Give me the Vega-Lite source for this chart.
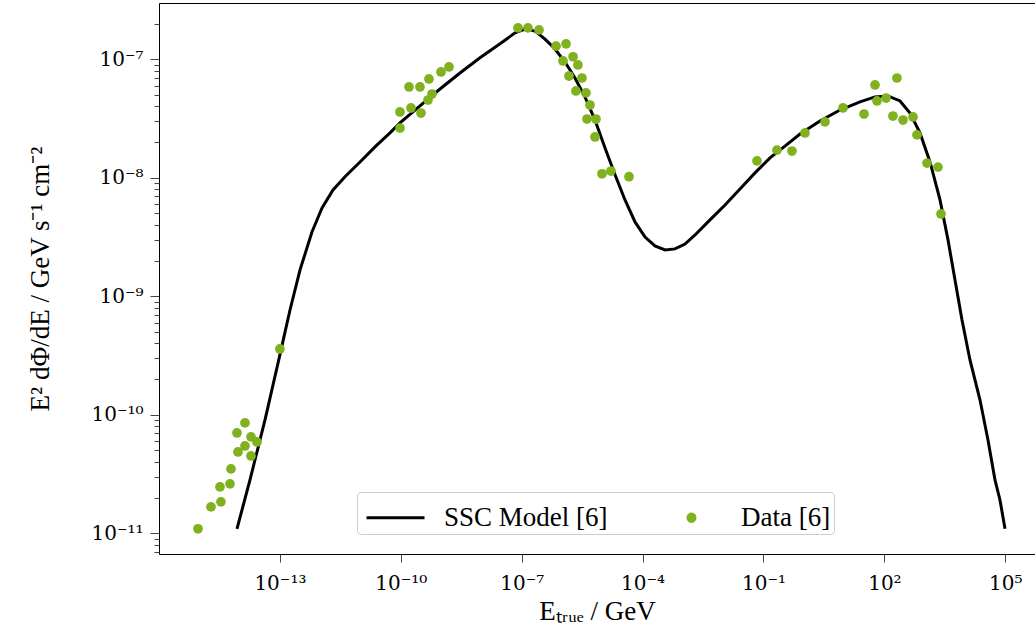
{
  "$schema": "https://vega.github.io/schema/vega-lite/v6.json",
  "width": 876,
  "height": 551,
  "autosize": {"type": "none"},
  "padding": {"left": 159, "top": 3, "right": 0, "bottom": 85},
  "background": "white",
  "config": {
    "view": {"stroke": null},
    "font": "Liberation Serif",
    "axis": {
      "labelFont": "DejaVu Serif",
      "titleFont": "Liberation Serif",
      "labelFontSize": 20,
      "titleFontSize": 27,
      "titleFontWeight": "normal",
      "labelColor": "black",
      "titleColor": "black",
      "domainColor": "black",
      "domainWidth": 1,
      "tickColor": "#444444",
      "tickWidth": 1,
      "grid": false
    },
    "legend": {
      "labelFont": "Liberation Serif",
      "labelFontSize": 27,
      "labelColor": "black",
      "labelLimit": 400
    }
  },
  "datasets": {
    "model": [
      {"energy": 8.61e-15, "flux": 1.09e-11},
      {"energy": 1.81e-14, "flux": 2.82e-11},
      {"energy": 4.27e-14, "flux": 9.04e-11},
      {"energy": 1.0e-13, "flux": 3.2e-10},
      {"energy": 1.78e-13, "flux": 7.66e-10},
      {"energy": 3.16e-13, "flux": 1.67e-9},
      {"energy": 6.25e-13, "flux": 3.49e-9},
      {"energy": 1.11e-12, "flux": 5.56e-9},
      {"energy": 2.08e-12, "flux": 7.89e-9},
      {"energy": 4.12e-12, "flux": 1.02e-8},
      {"energy": 9.72e-12, "flux": 1.36e-8},
      {"energy": 2.29e-11, "flux": 1.82e-8},
      {"energy": 5.4e-11, "flux": 2.39e-8},
      {"energy": 9.55e-11, "flux": 2.9e-8},
      {"energy": 2.99e-10, "flux": 4.04e-8},
      {"energy": 9.39e-10, "flux": 5.61e-8},
      {"energy": 2.94e-9, "flux": 7.66e-8},
      {"energy": 9.23e-9, "flux": 1.03e-7},
      {"energy": 2.9e-8, "flux": 1.35e-7},
      {"energy": 6.82e-8, "flux": 1.67e-7},
      {"energy": 1.21e-7, "flux": 1.8e-7},
      {"energy": 2.14e-7, "flux": 1.73e-7},
      {"energy": 3.79e-7, "flux": 1.48e-7},
      {"energy": 6.7e-7, "flux": 1.22e-7},
      {"energy": 1.19e-6, "flux": 9.48e-8},
      {"energy": 2.1e-6, "flux": 6.95e-8},
      {"energy": 3.72e-6, "flux": 4.81e-8},
      {"energy": 6.59e-6, "flux": 3.07e-8},
      {"energy": 1.17e-5, "flux": 1.78e-8},
      {"energy": 2.07e-5, "flux": 1.06e-8},
      {"energy": 3.66e-5, "flux": 6.5e-9},
      {"energy": 6.48e-5, "flux": 4.24e-9},
      {"energy": 1.15e-4, "flux": 3.16e-9},
      {"energy": 2.03e-4, "flux": 2.66e-9},
      {"energy": 3.6e-4, "flux": 2.46e-9},
      {"energy": 6.37e-4, "flux": 2.51e-9},
      {"energy": 1.13e-3, "flux": 2.76e-9},
      {"energy": 2.0e-3, "flux": 3.29e-9},
      {"energy": 4.7e-3, "flux": 4.41e-9},
      {"energy": 0.0111, "flux": 5.89e-9},
      {"energy": 0.0261, "flux": 8.04e-9},
      {"energy": 0.0615, "flux": 1.1e-8},
      {"energy": 0.145, "flux": 1.47e-8},
      {"energy": 0.341, "flux": 1.85e-8},
      {"energy": 0.805, "flux": 2.34e-8},
      {"energy": 2.52, "flux": 3.01e-8},
      {"energy": 7.91, "flux": 3.73e-8},
      {"energy": 24.8, "flux": 4.37e-8},
      {"energy": 58.5, "flux": 4.81e-8},
      {"energy": 123, "flux": 4.9e-8},
      {"energy": 244, "flux": 4.45e-8},
      {"energy": 432, "flux": 3.52e-8},
      {"energy": 764, "flux": 2.39e-8},
      {"energy": 1355, "flux": 1.36e-8},
      {"energy": 2400, "flux": 6.5e-9},
      {"energy": 3790, "flux": 2.99e-9},
      {"energy": 5650, "flux": 1.37e-9},
      {"energy": 8430, "flux": 6.31e-10},
      {"energy": 13300, "flux": 2.9e-10},
      {"energy": 23600, "flux": 1.33e-10},
      {"energy": 37200, "flux": 6.12e-11},
      {"energy": 55500, "flux": 2.82e-11},
      {"energy": 73800, "flux": 1.91e-11},
      {"energy": 98400, "flux": 1.09e-11}
    ],
    "measurements": [
      {"energy": 9.3e-16, "flux": 1.09e-11},
      {"energy": 1.95e-15, "flux": 1.67e-11},
      {"energy": 3.45e-15, "flux": 1.84e-11},
      {"energy": 3.26e-15, "flux": 2.46e-11},
      {"energy": 5.78e-15, "flux": 2.61e-11},
      {"energy": 6.12e-15, "flux": 3.49e-11},
      {"energy": 8.6e-15, "flux": 7.02e-11},
      {"energy": 9.1e-15, "flux": 4.85e-11},
      {"energy": 1.36e-14, "flux": 8.53e-11},
      {"energy": 1.36e-14, "flux": 5.45e-11},
      {"energy": 1.92e-14, "flux": 6.5e-11},
      {"energy": 1.92e-14, "flux": 4.49e-11},
      {"energy": 2.7e-14, "flux": 5.89e-11},
      {"energy": 1.0e-13, "flux": 3.59e-10},
      {"energy": 9.55e-11, "flux": 3.59e-8},
      {"energy": 9.55e-11, "flux": 2.63e-8},
      {"energy": 1.6e-10, "flux": 5.84e-8},
      {"energy": 1.79e-10, "flux": 3.88e-8},
      {"energy": 2.99e-10, "flux": 5.84e-8},
      {"energy": 3.17e-10, "flux": 3.52e-8},
      {"energy": 4.73e-10, "flux": 4.53e-8},
      {"energy": 5.0e-10, "flux": 6.82e-8},
      {"energy": 5.95e-10, "flux": 5.09e-8},
      {"energy": 9.95e-10, "flux": 7.81e-8},
      {"energy": 1.57e-9, "flux": 8.61e-8},
      {"energy": 8.09e-8, "flux": 1.84e-7},
      {"energy": 1.43e-7, "flux": 1.84e-7},
      {"energy": 2.69e-7, "flux": 1.77e-7},
      {"energy": 7.1e-7, "flux": 1.29e-7},
      {"energy": 1.06e-6, "flux": 9.68e-8},
      {"energy": 1.26e-6, "flux": 1.35e-7},
      {"energy": 1.49e-6, "flux": 7.22e-8},
      {"energy": 1.88e-6, "flux": 1.05e-7},
      {"energy": 2.22e-6, "flux": 5.4e-8},
      {"energy": 2.49e-6, "flux": 8.95e-8},
      {"energy": 3.13e-6, "flux": 6.95e-8},
      {"energy": 3.94e-6, "flux": 5.2e-8},
      {"energy": 4.17e-6, "flux": 3.13e-8},
      {"energy": 4.95e-6, "flux": 4.11e-8},
      {"energy": 6.59e-6, "flux": 2.21e-8},
      {"energy": 6.98e-6, "flux": 3.13e-8},
      {"energy": 9.84e-6, "flux": 1.08e-8},
      {"energy": 1.64e-5, "flux": 1.14e-8},
      {"energy": 4.6e-5, "flux": 1.02e-8},
      {"energy": 0.069, "flux": 1.39e-8},
      {"energy": 0.216, "flux": 1.71e-8},
      {"energy": 0.509, "flux": 1.68e-8},
      {"energy": 1.07, "flux": 2.39e-8},
      {"energy": 3.36, "flux": 2.96e-8},
      {"energy": 9.4, "flux": 3.88e-8},
      {"energy": 31.2, "flux": 3.45e-8},
      {"energy": 58.5, "flux": 6.07e-8},
      {"energy": 65.5, "flux": 4.45e-8},
      {"energy": 110, "flux": 4.71e-8},
      {"energy": 205, "flux": 6.95e-8},
      {"energy": 163, "flux": 3.32e-8},
      {"energy": 290, "flux": 3.07e-8},
      {"energy": 513, "flux": 3.26e-8},
      {"energy": 644, "flux": 2.3e-8},
      {"energy": 1140, "flux": 1.33e-8},
      {"energy": 2140, "flux": 1.23e-8},
      {"energy": 2540, "flux": 4.95e-9}
    ]
  },
  "layer": [
    {
      "data": {"name": "model"},
      "transform": [{"calculate": "'SSC Model [6]'", "as": "series"}],
      "mark": {"type": "line", "strokeWidth": 3, "clip": true},
      "encoding": {
        "x": {
          "field": "energy",
          "type": "quantitative",
          "scale": {"type": "log", "domain": [1e-16, 5.46e5], "nice": false},
          "axis": {
            "orient": "bottom",
            "title": "Eₜᵣᵤₑ  /  GeV",
            "values": [1e-13, 1e-10, 1e-7, 1e-4, 1e-1, 1e2, 1e5],
            "labelExpr": "{'-13':'10⁻¹³','-10':'10⁻¹⁰','-7':'10⁻⁷','-4':'10⁻⁴','-1':'10⁻¹','2':'10²','5':'10⁵'}[round(log(datum.value)/LN10)+'']",
            "tickSize": 8,
            "labelPadding": 11,
            "titlePadding": 5
          }
        },
        "y": {
          "field": "flux",
          "type": "quantitative",
          "scale": {"type": "log", "domain": [6.68e-12, 2.985e-7], "nice": false},
          "axis": {
            "orient": "left",
            "title": "E² dΦ/dE  /  GeV s⁻¹ cm⁻²",
            "values": [1e-11, 1e-10, 1e-9, 1e-8, 1e-7],
            "labelExpr": "{'-11':'10⁻¹¹','-10':'10⁻¹⁰','-9':'10⁻⁹','-8':'10⁻⁸','-7':'10⁻⁷'}[round(log(datum.value)/LN10)+'']",
            "tickSize": 9,
            "labelPadding": 7,
            "titlePadding": 36
          }
        },
        "color": {
          "field": "series",
          "type": "nominal",
          "scale": {"domain": ["SSC Model [6]", "Data [6]"], "range": ["#000000", "#80b21f"]},
          "legend": {
            "title": null,
            "orient": "none",
            "legendX": 198,
            "legendY": 489,
            "direction": "horizontal",
            "columns": 2,
            "columnPadding": 49,
            "padding": 3,
            "fillColor": "white",
            "strokeColor": "#cccccc",
            "cornerRadius": 4,
            "symbolSize": 1764,
            "symbolType": "circle",
            "symbolStrokeWidth": 3,
            "labelOffset": 39,
            "encode": {
              "symbols": {
                "update": {
                  "shape": {"signal": "datum.value === 'Data [6]' ? 'M0.405,0A0.167,0.167,0,1,1,0.738,0A0.167,0.167,0,1,1,0.405,0Z' : 'M-0.762,0H2'"},
                  "size": {"value": 1764},
                  "fill": {"signal": "datum.value === 'Data [6]' ? '#80b21f' : 'transparent'"},
                  "stroke": {"signal": "datum.value === 'Data [6]' ? 'transparent' : '#000000'"},
                  "strokeWidth": {"value": 3}
                }
              }
            }
          }
        }
      }
    },
    {
      "data": {"name": "measurements"},
      "transform": [{"calculate": "'Data [6]'", "as": "series"}],
      "mark": {"type": "point", "filled": true, "opacity": 1, "size": 95, "clip": true},
      "encoding": {
        "x": {
          "field": "energy",
          "type": "quantitative",
          "axis": {"orient": "top", "title": null, "labels": false, "ticks": false, "domain": true}
        },
        "y": {
          "field": "flux",
          "type": "quantitative",
          "axis": {
            "orient": "left",
            "title": null,
            "labels": false,
            "domain": false,
            "tickSize": 5,
            "values": [7e-12, 8e-12, 9e-12, 2e-11, 3e-11, 4e-11, 5e-11, 6e-11, 7e-11, 8e-11, 9e-11, 2e-10, 3e-10, 4e-10, 5e-10, 6e-10, 7e-10, 8e-10, 9e-10, 2e-9, 3e-9, 4e-9, 5e-9, 6e-9, 7e-9, 8e-9, 9e-9, 2e-8, 3e-8, 4e-8, 5e-8, 6e-8, 7e-8, 8e-8, 9e-8, 2e-7]
          }
        },
        "color": {"field": "series", "type": "nominal"}
      }
    }
  ],
  "resolve": {"axis": {"x": "independent", "y": "independent"}}
}
